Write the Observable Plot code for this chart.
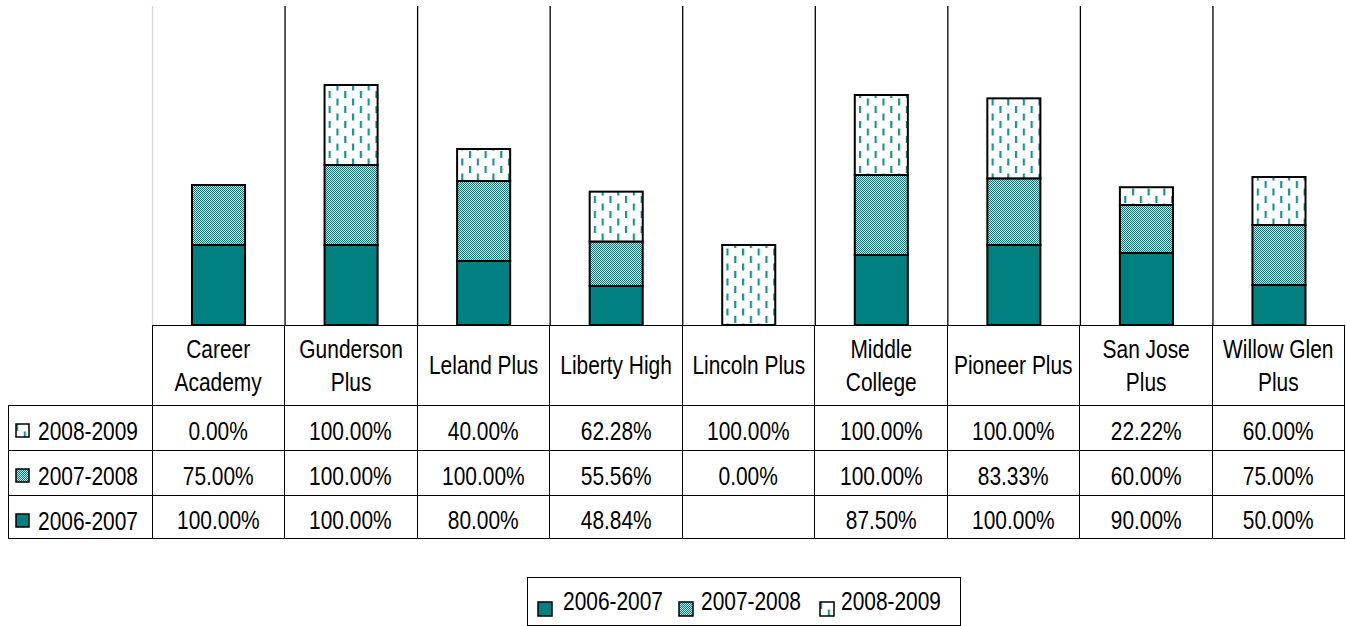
<!DOCTYPE html>
<html><head><meta charset="utf-8">
<script src="https://cdn.jsdelivr.net/npm/d3@7"></script>
<script src="https://cdn.jsdelivr.net/npm/@observablehq/plot@0.6"></script>
<style>
html,body{margin:0;padding:0;background:#fff;}
#wrap{position:relative;width:1346px;height:626px;overflow:hidden;font-family:"Liberation Sans Narrow","Arial Narrow","Liberation Sans",Arial,sans-serif;font-size:25.5px;color:#000;}
#chart{position:absolute;left:0;top:0;}
.cell{position:absolute;box-sizing:border-box;border:1px solid #000;display:flex;align-items:center;justify-content:center;text-align:center;white-space:nowrap;line-height:33px;}
.body{padding-top:6px;}
.t{display:inline-block;white-space:pre;}
.nonarrow .t{font-family:"Liberation Sans",Arial,sans-serif;transform:scaleX(0.82);}
.nonarrow .lt{transform-origin:left center;}
#legend{position:absolute;left:527px;top:577px;width:434px;height:49px;box-sizing:border-box;border:1px solid #000;}
.abs{position:absolute;line-height:30px;white-space:nowrap;}
</style>
</head><body>
<svg width="0" height="0" style="position:absolute">
  <defs>
    <pattern id="p0607" patternUnits="userSpaceOnUse" width="4" height="4">
      <rect width="4" height="4" fill="#008080"/>
    </pattern>
    <pattern id="p0708" patternUnits="userSpaceOnUse" width="2" height="2">
      <rect width="2" height="2" fill="#c4e2e2"/>
      <rect x="0" y="0" width="1" height="1" fill="#008080"/>
      <rect x="1" y="1" width="1" height="1" fill="#008080"/>
    </pattern>
    <pattern id="p0809" patternUnits="userSpaceOnUse" width="15.6" height="15">
      <rect width="15.6" height="15" fill="#fff"/>
      <rect x="1" y="1" width="2.2" height="7" fill="#1a9292"/>
      <rect x="8.8" y="8.5" width="2.2" height="7" fill="#1a9292"/>
      <rect x="8.8" y="-6.5" width="2.2" height="7" fill="#1a9292"/>
    </pattern>
  </defs>
</svg>
<div id="wrap"><div id="chart"></div></div>
<script>
// ---- data ----
const schools = ["Career Academy", "Gunderson Plus", "Leland Plus", "Liberty High", "Lincoln Plus", "Middle College", "Pioneer Plus", "San Jose Plus", "Willow Glen Plus"];
const schoolLabels = ["Career\nAcademy", "Gunderson\nPlus", "Leland Plus", "Liberty High", "Lincoln Plus", "Middle\nCollege", "Pioneer Plus", "San Jose\nPlus", "Willow Glen\nPlus"];
const series = ["2006-2007", "2007-2008", "2008-2009"];
const v0607 = [100, 100, 80, 48.84, null, 87.5, 100, 90, 50];
const v0708 = [75, 100, 100, 55.56, 0, 100, 83.33, 60, 75];
const v0809 = [0, 100, 40, 62.28, 100, 100, 100, 22.22, 60];
const seriesValues = [v0607, v0708, v0809];
const patterns = ["url(#p0607)", "url(#p0708)", "url(#p0809)"];
const tableOrder = ["2008-2009", "2007-2008", "2006-2007"];

const rows = [];
series.forEach((s, i) => schools.forEach((sc, j) => rows.push({school: sc, series: s, value: seriesValues[i][j]})));

// font detection: fall back to a horizontally condensed Liberation Sans
(function(){
  const c = document.createElement("canvas").getContext("2d");
  c.font = "30px 'Liberation Sans Narrow', monospace"; const a = c.measureText("2008-2009 Liberty").width;
  c.font = "30px monospace"; const b = c.measureText("2008-2009 Liberty").width;
  if (Math.abs(a - b) < 0.5) document.getElementById("wrap").classList.add("nonarrow");
})();

const W = 1346, ML = 152, MR = 1;
const bw = (W - ML - MR) / schools.length;

const chart = Plot.plot({
  width: W, height: 326,
  marginLeft: ML, marginRight: MR, marginTop: 6, marginBottom: 1,
  x: {domain: schools, padding: 0, round: false, axis: null},
  y: {domain: [0, 398.75], axis: null},
  color: {domain: series, range: patterns},
  marks: [
    Plot.ruleX([schools[0]], {x: d => d, dx: -bw / 2, stroke: "#d4d4d4", strokeWidth: 1.3}),
    Plot.ruleX(schools.slice(1), {x: d => d, dx: -bw / 2, stroke: "#000", strokeWidth: 1.3}),
    Plot.barY(rows, {x: "school", y: "value", fill: "series", filter: d => d.value > 0,
      stroke: "#000", strokeWidth: 2, insetLeft: 40, insetRight: 39.5})
  ]
});
document.getElementById("chart").appendChild(chart);

const xs = chart.scale("x");
const wrap = document.getElementById("wrap");
function cell(left, top, width, height, html, cls) {
  const d = document.createElement("div");
  d.className = "cell" + (cls ? " " + cls : "");
  Object.assign(d.style, {left: left + "px", top: top + "px", width: width + "px", height: height + "px"});
  d.innerHTML = html;
  wrap.appendChild(d);
  return d;
}
function swatch(i, size) {
  return `<svg width="${size}" height="${size}" style="display:block"><rect x="1" y="1" width="${size-2}" height="${size-2}" fill="${patterns[i]}" stroke="#000" stroke-width="1.5"/></svg>`;
}
function place(parent, left, top, html) {
  const d = document.createElement("div");
  d.className = "abs";
  Object.assign(d.style, {left: left + "px", top: top + "px"});
  d.innerHTML = html;
  parent.appendChild(d);
}
// header row
schools.forEach((s, j) => {
  cell(xs.apply(s) - 0.5, 325, xs.bandwidth + 1, 81, `<span class="t">${schoolLabels[j]}</span>`);
});
// body rows
const rowTops = [405, 450, 495];
const rowH = [46, 46, 44];
tableOrder.forEach((s, r) => {
  const i = series.indexOf(s);
  cell(8, rowTops[r], ML - 8 + 0.5, rowH[r], "");
  place(wrap, 15, rowTops[r] + 18, swatch(i, 15));
  place(wrap, 38, rowTops[r] + 11, `<span class="t lt">${s}</span>`);
  schools.forEach((sc, j) => {
    const v = seriesValues[i][j];
    const txt = v == null ? "" : v.toFixed(2) + "%";
    cell(xs.apply(sc) - 0.5, rowTops[r], xs.bandwidth + 1, rowH[r], `<span class="t">${txt}</span>`, "body");
  });
});
// legend
const lg = document.createElement("div");
lg.id = "legend";
wrap.appendChild(lg);
const swX = [9, 150, 291], txX = [35, 173, 313];
series.forEach((s, i) => {
  place(lg, swX[i], 23, swatch(i, 16));
  place(lg, txX[i], 8, `<span class="t lt">${s}</span>`);
});
</script>
</body></html>
